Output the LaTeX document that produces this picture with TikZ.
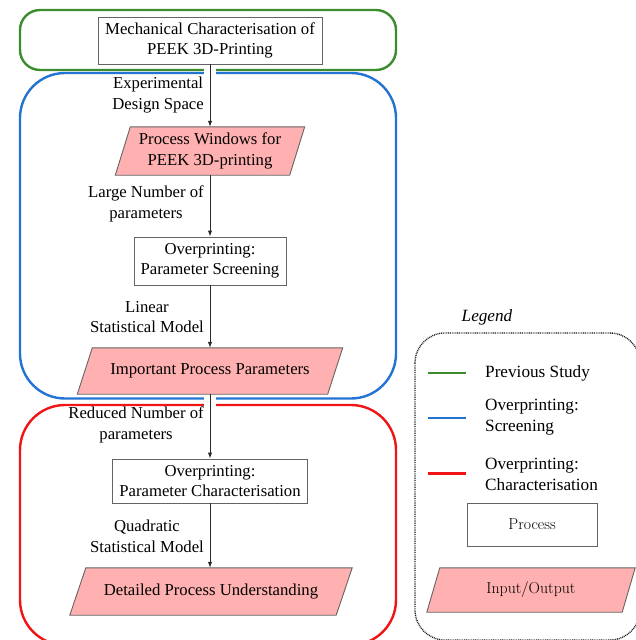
\documentclass[tikz,border=0pt]{standalone}
\usepackage{fontspec}
\newfontfamily\tnr{Liberation Serif}
\usetikzlibrary{arrows.meta,backgrounds}
\definecolor{cgreen}{RGB}{60,140,45}
\definecolor{cblue}{RGB}{35,115,210}
\definecolor{cred}{RGB}{240,20,20}
\definecolor{cpink}{RGB}{255,176,176}
\definecolor{cborder}{RGB}{100,100,100}
\definecolor{carrow}{RGB}{40,40,40}
\tikzset{
  mainfont/.style={font=\tnr\fontsize{16.7}{20.5}\selectfont},
  lgfont/.style={font=\tnr\fontsize{17.2}{21}\selectfont},
  lmfont/.style={font=\rmfamily\fontsize{15.8}{18}\selectfont},
  procbox/.style={draw=cborder, line width=0.9pt, fill=white, align=center, inner sep=0pt},
  iobox/.style={align=center, inner sep=0pt},
  iodraw/.style={draw=cborder, fill=cpink, line width=0.9pt},
  lbl/.style={align=center, anchor=east, inner sep=0pt},
  arr/.style={-{Latex[length=6pt,width=4.5pt]}, line width=1pt, draw=carrow},
  cont/.style={line width=2.4pt},
  gap/.style={fill=white},
  legendframe/.style={line width=1.4pt, draw=black!90, dash pattern=on 0.9pt off 0.9pt, rounded corners=30pt},
}
\newcommand\ioshape[2]{%
  \begin{pgfonlayer}{background}
    \draw[iodraw] ([xshift=#2pt]#1.north west) -- (#1.north east)
      -- ([xshift=-#2pt]#1.south east) -- (#1.south west) -- cycle;
  \end{pgfonlayer}}
\begin{document}
\begin{tikzpicture}[x=1pt,y=-1pt,mainfont]
\useasboundingbox (0,0) rectangle (635,640);
% containers
\draw[cont, draw=cgreen, rounded corners=20pt] (20,10) rectangle (396,70);
\draw[cont, draw=cblue, rounded corners=45pt] (20,73) rectangle (396,398.5);
\draw[cont, draw=cred, rounded corners=45pt] (20,405) rectangle (396,645);
\fill[gap] (204,66) rectangle (216,77.5);
\fill[gap] (204,395.5) rectangle (216,407.5);
% flow nodes
\node[procbox, minimum width=224pt, minimum height=47pt] (mc) at (210,40.5) {Mechanical Characterisation of\\PEEK 3D-Printing};
\node[lbl] (l1) at (204,95) {Experimental\\Design Space};
\node[iobox, minimum width=189pt, minimum height=48pt] (pw) at (210,151) {Process Windows for\\PEEK 3D-printing};
\ioshape{pw}{15}
\node[lbl] (l2) at (204,204) {Large Number of\\parameters};
\node[procbox, minimum width=152pt, minimum height=48pt] (ps) at (210,261) {Overprinting:\\Parameter Screening};
\node[lbl] (l3) at (204,317) {Linear\\Statistical Model};
\node[iobox, minimum width=265pt, minimum height=46pt] (ipp) at (210,371) {Important Process Parameters};
\ioshape{ipp}{15}
\node[lbl] (l4) at (204,425) {Reduced Number of\\parameters};
\node[procbox, minimum width=195pt, minimum height=44pt] (pc) at (210,481) {Overprinting:\\Parameter Characterisation};
\node[lbl] (l5) at (204,536.5) {Quadratic\\Statistical Model};
\node[iobox, minimum width=282pt, minimum height=47pt] (dpu) at (211,591.5) {Detailed Process Understanding};
\ioshape{dpu}{16}
% arrows
\draw[arr] (mc.south) -- (pw.north);
\draw[arr] (pw.south) -- (ps.north);
\draw[arr] (ps.south) -- (ipp.north);
\draw[arr] (ipp.south) -- (pc.north);
\draw[arr] (pc.south) -- (pc.south |- dpu.north);
% legend
\node[font=\tnr\itshape\fontsize{17.2}{21}\selectfont] (lg) at (487,317) {Legend};
\draw[legendframe] (415,333) rectangle (640,640);
\draw[cgreen, line width=2.2pt] (428,373) -- (466,373);
\draw[cblue, line width=2.2pt] (428,418) -- (466,418);
\draw[cred, line width=2.2pt] (428,473.5) -- (466,473.5);
\node[lgfont, anchor=west, align=left, inner sep=0pt] (lt1) at (485,373) {Previous Study};
\node[lgfont, anchor=west, align=left, inner sep=0pt] (lt2) at (485,417.5) {Overprinting:\\Screening};
\node[lgfont, anchor=west, align=left, inner sep=0pt] (lt3) at (485,474) {Overprinting:\\Characterisation};
\node[procbox, lmfont, minimum width=130pt, minimum height=43pt] (lp) at (532,524.5) {Process};
\node[iobox, lmfont, minimum width=208pt, minimum height=44pt] (lio) at (531,590) {Input/Output};
\ioshape{lio}{13}
\end{tikzpicture}
\end{document}
